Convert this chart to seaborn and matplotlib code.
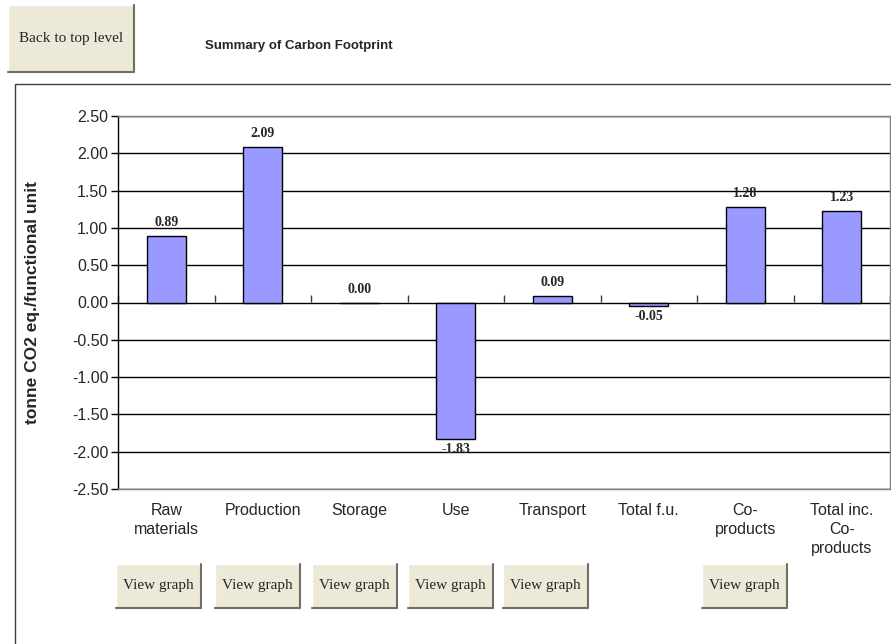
import numpy as np
import matplotlib
matplotlib.use("Agg")
import matplotlib.pyplot as plt
from matplotlib.patches import Rectangle
import seaborn as sns

# chart data
categories = ["Raw\nmaterials", "Production", "Storage", "Use", "Transport",
              "Total f.u.", "Co-\nproducts", "Total inc.\nCo-\nproducts"]
values = [0.89, 2.09, 0.00, -1.83, 0.09, -0.05, 1.28, 1.23]
y_ticks = [2.5, 2.0, 1.5, 1.0, 0.5, 0.0, -0.5, -1.0, -1.5, -2.0, -2.5]

W, H = 891, 644
BAR_COLOR = "#9999FF"
BTN_FACE = "#ECE9D8"

sns.set_style("white")
plt.rcParams["font.family"] = ["Liberation Sans", "DejaVu Sans"]

fig = plt.figure(figsize=(W / 100, H / 100), dpi=100)
fig.patch.set_facecolor("white")


def px_rect(x, y, w, h):
    """Convert a pixel box (top-left origin) to figure fraction."""
    return x / W, 1 - (y + h) / H, w / W, h / H


def draw_button(x, y, w, h, text, size=11):
    fx, fy, fw, fh = px_rect(x, y, w, h)
    fig.patches.append(Rectangle((fx, fy), fw, fh, transform=fig.transFigure,
                                 facecolor=BTN_FACE, edgecolor="none", zorder=5))
    # light top/left edge, dark bottom/right edge
    fig.add_artist(plt.Line2D([fx, fx, fx + fw], [fy, fy + fh, fy + fh],
                              transform=fig.transFigure, color="white", lw=1, zorder=6))
    fig.add_artist(plt.Line2D([fx, fx + fw, fx + fw], [fy, fy, fy + fh],
                              transform=fig.transFigure, color="#716F64", lw=1.5, zorder=6))
    fig.text(fx + fw / 2, fy + fh / 2, text, ha="center", va="center",
             family="Liberation Serif", fontsize=size, zorder=7)


# chart area frame
fx, fy, fw, fh = px_rect(15, 84, 900, 600)
fig.patches.append(Rectangle((fx, fy), fw, fh, transform=fig.transFigure,
                             facecolor="none", edgecolor="#404040", lw=1))

# plot area
ax_l, ax_r, ax_t, ax_b = 118, 890, 116, 489
ax = fig.add_axes([ax_l / W, 1 - ax_b / H, (ax_r - ax_l) / W, (ax_b - ax_t) / H])

sns.barplot(x=list(range(len(values))), y=values, color=BAR_COLOR, saturation=1,
            edgecolor="black", linewidth=1, width=0.4, ax=ax, zorder=2)

ax.set_ylim(min(y_ticks), max(y_ticks))
ax.set_xlim(-0.5, len(values) - 0.5)
ax.set_yticks(y_ticks)
ax.set_yticklabels([f"{t:.2f}" for t in y_ticks], fontsize=11.5)
ax.tick_params(axis="y", direction="out", length=5, width=1, color="black", pad=2, left=True)
ax.set_xticks(range(len(categories)))
ax.set_xticklabels(categories, fontsize=11.5, linespacing=1.35, va="top")
ax.tick_params(axis="x", length=0, pad=10)

ax.set_axisbelow(True)
ax.yaxis.grid(True, color="black", lw=1)
for side in ["top", "right", "bottom"]:
    ax.spines[side].set_color("#808080")
    ax.spines[side].set_linewidth(1)
ax.spines["left"].set_color("black")
ax.spines["left"].set_linewidth(1)

# category axis crossing at zero, ticks between categories
zero_pos = (0 - min(y_ticks)) / (max(y_ticks) - min(y_ticks))
sec = ax.secondary_xaxis(zero_pos)
sec.set_xticks(np.arange(-0.5, len(values), 1.0))
sec.set_xticklabels([])
sec.tick_params(axis="x", direction="out", length=5, width=1, color="#404040")
for side in ["top", "left", "right"]:
    sec.spines[side].set_visible(False)
sec.spines["bottom"].set_color("#808080")

# value labels
for i, v in enumerate(values):
    if v >= 0:
        ax.annotate(f"{v:.2f}", (i, v), xytext=(0, 5), textcoords="offset points",
                    ha="center", va="bottom", fontsize=10, fontweight="bold",
                    family="Liberation Serif")
    else:
        ax.annotate(f"{v:.2f}", (i, v), xytext=(0, -3), textcoords="offset points",
                    ha="center", va="top", fontsize=10, fontweight="bold",
                    family="Liberation Serif")

ax.set_ylabel("tonne CO2 eq./functional unit", fontsize=12.5, fontweight="bold")
ax.yaxis.set_label_coords((40 - ax_l) / (ax_r - ax_l), 0.5)

# title and buttons
fig.text(205 / W, 1 - 46 / H, "Summary of Carbon Footprint", ha="left", va="center",
         fontsize=9.5, fontweight="bold")
draw_button(8, 5, 126, 67, "Back to top level")

button_left = [116, 215, 312, 408, 503, 702]
for bx in button_left:
    draw_button(bx, 564, 85, 44, "View graph")

fig.savefig("out.png", dpi=100)
